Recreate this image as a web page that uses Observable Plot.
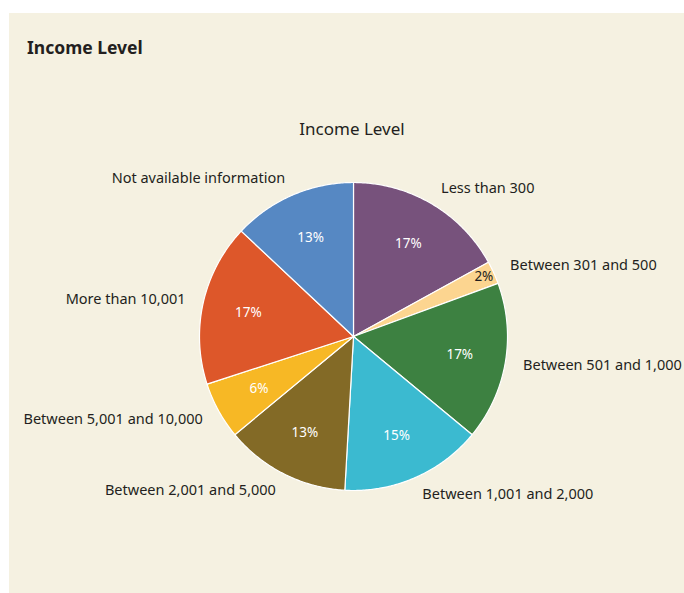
<!DOCTYPE html>
<html><head><meta charset="utf-8">
<script src="https://cdn.jsdelivr.net/npm/d3@7"></script>
<script src="https://cdn.jsdelivr.net/npm/@observablehq/plot@0.6"></script>
<style>
html,body{margin:0;padding:0;background:#fff;width:684px;height:593px;overflow:hidden;font-family:"Noto Sans",sans-serif;}
#panel{position:absolute;left:9px;top:13px;width:675px;height:580px;background:#f5f1e1;}
#title{position:absolute;left:18px;top:22px;font-weight:bold;font-size:17.5px;color:#231f20;}
#sub{position:absolute;left:0;width:686px;top:104px;text-align:center;font-size:17px;color:#231f20;}
#chart{position:absolute;left:-9px;top:-13px;}
</style></head>
<body>
<div id="panel"><div id="chart"></div><div id="title">Income Level</div><div id="sub">Income Level</div></div>
<script>
const categories = ["Less than 300","Between 301 and 500","Between 501 and 1,000","Between 1,001 and 2,000","Between 2,001 and 5,000","Between 5,001 and 10,000","More than 10,001","Not available information"];
const shares = [17.0, 2.4, 16.6, 14.9, 13.1, 6.0, 17.0, 13.0];
const colors = ["#77527c","#fcd590","#3d8141","#3bbad0","#836a26","#f7b825","#dd572a","#5688c3"];

const W = 684, H = 593, cx = 353, cy = 336, R = 154;
const total = d3.sum(shares);
let acc = 0;
const slices = categories.map((c, i) => {
  const a0 = acc / total * 2 * Math.PI; acc += shares[i];
  const a1 = acc / total * 2 * Math.PI;
  return {key: c, value: shares[i], a0, a1, mid: (a0 + a1) / 2, color: colors[i]};
});
// polygon points (unit radius, y up)
const poly = [];
for (const s of slices) {
  poly.push({key: s.key, x: 0, y: 0});
  const n = Math.max(2, Math.ceil((s.a1 - s.a0) / 0.01));
  for (let k = 0; k <= n; k++) {
    const a = s.a0 + (s.a1 - s.a0) * k / n;
    poly.push({key: s.key, x: Math.sin(a), y: Math.cos(a)});
  }
}
const lab = slices.map(s => {
  const d = 1 + 18 / R;
  const side = Math.sin(s.mid) >= 0 ? 1 : -1;
  const pr = s.value < 5 ? 0.93 : 0.7;
  return {...s, lx: Math.sin(s.mid) * d, ly: Math.cos(s.mid) * d, side,
    px: Math.sin(s.mid) * pr, py: Math.cos(s.mid) * pr,
    pct: Math.round(s.value) + "%"};
});

const chart = Plot.plot({
  width: W, height: H,
  margin: 0,
  style: {background: "transparent", fontFamily: "Noto Sans, sans-serif"},
  x: {domain: [-cx / R, (W - cx) / R], axis: null},
  y: {domain: [-(H - cy) / R, cy / R], axis: null},
  color: {domain: categories, range: colors},
  marks: [
    Plot.line(poly, {x: "x", y: "y", z: "key", fill: "key", stroke: "#fff", strokeWidth: 1.2, curve: "linear-closed"}),
    Plot.text(lab.filter(d => d.side > 0), {x: "lx", y: "ly", text: "key", textAnchor: "start", fontSize: 14.5, fill: "#231f20"}),
    Plot.text(lab.filter(d => d.side < 0), {x: "lx", y: "ly", text: "key", textAnchor: "end", fontSize: 14.5, fill: "#231f20"}),
    Plot.text(lab, {x: "px", y: "py", text: "pct", fontSize: 13.5, fill: d => d.value < 5 ? "#231f20" : "#ffffff"})
  ]
});
document.getElementById("chart").appendChild(chart);
</script>
</body></html>
